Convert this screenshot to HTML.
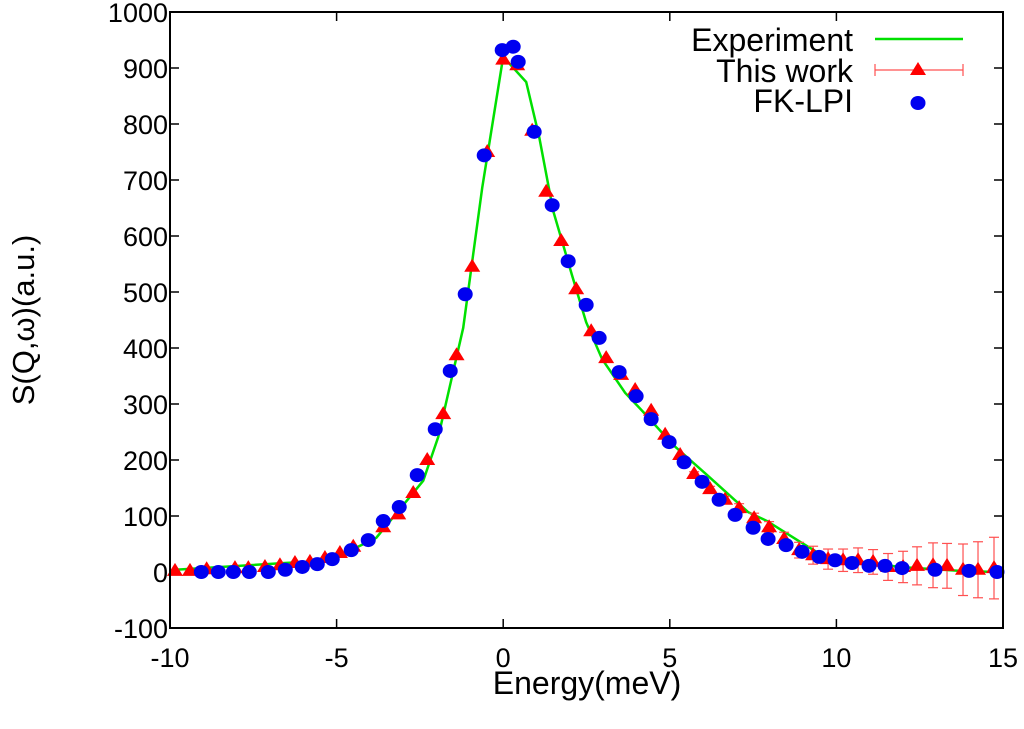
<!DOCTYPE html>
<html><head><meta charset="utf-8"><style>
html,body{margin:0;padding:0;background:#fff}
svg{display:block;font-family:"Liberation Sans",sans-serif}
</style></head><body>
<svg id="chart" width="1024" height="729" xmlns="http://www.w3.org/2000/svg"></svg>
<script>
const xTicks=[-10,-5,0,5,10,15];
const yTicks=[-100,0,100,200,300,400,500,600,700,800,900,1000];
const expX=[-9.84,-5.19,-3.81,-2.4,-1.95,-1.2,-0.63,0,0.69,1.08,1.5,2.07,2.49,2.97,3.66,4.2,5.1,6.12,7.35,7.92,8.91,9.51,9.9,11.91,13.71,14.8];
const expY=[4,21,61,163,241,436,686,920,875,777,645,529,446,380,320,286,227,173,107,91,54,32,25,9,2,0];
const workX=[-9.85,-9.4,-8.9,-8.05,-7.65,-7.15,-6.7,-6.25,-5.8,-5.35,-4.9,-4.5,-3.6,-3.15,-2.7,-2.28,-1.8,-1.4,-0.93,-0.48,0,0.42,0.87,1.29,1.74,2.19,2.64,3.09,3.54,3.96,4.44,4.86,5.31,5.73,6.21,6.66,7.08,7.53,7.98,8.43,8.88,9.3,9.75,10.2,10.65,11.1,11.55,12.0,12.42,12.9,13.32,13.8,14.25,14.73];
const workY=[2,2,5,7,7,9,12,16,18,25,34,45,80,103,141,200,282,387,545,750,915,905,788,679,591,505,430,382,352,325,288,245,209,175,148,129,114,96,80,59,39,30,23,21,21,18,9,9,11,12,11,4,4,7];
const workErr=[1,1,1,1,1,1,1,1,1,1,1,1,1,1,1,1,1,1,1,1,1,1,1,1,1,1,1,1,1,2,2,3,3,4,5,6,8,9,10,12,14,16,18,20,22,22,24,28,34,40,40,46,50,55];
const lpiX=[-9.06,-8.55,-8.1,-7.62,-7.05,-6.54,-6.03,-5.58,-5.13,-4.56,-4.05,-3.6,-3.12,-2.58,-2.04,-1.59,-1.14,-0.57,-0.03,0.3,0.45,0.93,1.47,1.95,2.49,2.88,3.48,3.99,4.44,4.98,5.43,5.97,6.48,6.96,7.5,7.95,8.49,8.97,9.48,9.96,10.47,10.98,11.46,11.97,12.96,13.98,14.82];
const lpiY=[0,0,0,0,0,4,9,14,23,39,57,91,116,173,255,359,496,744,932,938,911,786,655,555,477,418,357,314,273,232,196,161,129,102,79,59,48,36,27,21,16,11,11,7,4,2,0];

const NS="http://www.w3.org/2000/svg";
const svg=document.getElementById('chart');
const L=170,R=1003,T=12,B=628;
const sx=v=>L+(v+10)/25*(R-L);
const sy=v=>B-(v+100)/1100*(B-T);
function mk(tag,a,parent){const e=document.createElementNS(NS,tag);for(const k in a)e.setAttribute(k,a[k]);(parent||svg).appendChild(e);return e;}

const axes=mk('g',{});


xTicks.forEach(v=>{
  const x=sx(v);
  mk('line',{x1:x,y1:B,x2:x,y2:B-9,stroke:'#000','stroke-width':1.5},axes);
  mk('line',{x1:x,y1:T,x2:x,y2:T+9,stroke:'#000','stroke-width':1.5},axes);
  const t=mk('text',{x:x,y:B+39,'text-anchor':'middle','font-size':27},axes);
  t.textContent=v;
  
  
});
yTicks.forEach(v=>{
  const y=sy(v);
  mk('line',{x1:L,y1:y,x2:L+9,y2:y,stroke:'#000','stroke-width':1.5},axes);
  mk('line',{x1:R,y1:y,x2:R-9,y2:y,stroke:'#000','stroke-width':1.5},axes);
  const t=mk('text',{x:L-2,y:y+10,'text-anchor':'end','font-size':27},axes);
  t.textContent=v;
  
  
});

const pts=expX.map((x,i)=>sx(x)+','+sy(expY[i])).join(' ');
const line=mk('polyline',{points:pts,fill:'none',stroke:'#00e000','stroke-width':2.5});



const wg=mk('g',{});


workX.forEach((xv,i)=>{
  const x=sx(xv),y=sy(workY[i]),e=workErr[i]*(B-T)/1100;
  if(e>2){
    mk('line',{x1:x,y1:y-e,x2:x,y2:y+e,stroke:'#ff5050','stroke-width':1.2},wg);
    mk('line',{x1:x-5,y1:y-e,x2:x+5,y2:y-e,stroke:'#ff5050','stroke-width':1.2},wg);
    mk('line',{x1:x-5,y1:y+e,x2:x+5,y2:y+e,stroke:'#ff5050','stroke-width':1.2},wg);
  }
  const p=mk('polygon',{points:`${x},${y-8} ${x-8},${y+5} ${x+8},${y+5}`,fill:'#f00'},wg);
  
  
});

const lg=mk('g',{});


lpiX.forEach((xv,i)=>{
  const c=mk('ellipse',{cx:sx(xv),cy:sy(lpiY[i]),rx:7.5,ry:7,fill:'#0000f0'},lg);
  
  
});

const fr=mk('rect',{x:L,y:T,width:R-L,height:B-T,fill:'none',stroke:'#000','stroke-width':2});


</script>
<svg width="1024" height="729" style="position:absolute;left:0;top:0" xmlns="http://www.w3.org/2000/svg" font-family="Liberation Sans, sans-serif">
  <g font-size="32">
    <text x="853" y="51" text-anchor="end">Experiment</text>
    <line x1="875" y1="39" x2="963" y2="39" stroke="#00e000" stroke-width="2.5"/>
    <text x="853" y="82" text-anchor="end">This work</text>
    <line x1="875" y1="70" x2="963" y2="70" stroke="#ff5050" stroke-width="1.2"/>
    <line x1="875" y1="64" x2="875" y2="76" stroke="#ff5050" stroke-width="1.2"/>
    <line x1="963" y1="64" x2="963" y2="76" stroke="#ff5050" stroke-width="1.2"/>
    <polygon points="918,62 910,75 926,75" fill="#f00"/>
    <text x="853" y="112" text-anchor="end">FK-LPI</text>
    <ellipse cx="918" cy="103" rx="7.5" ry="7" fill="#0000f0"/>
  </g>
  <text x="587" y="694" text-anchor="middle" font-size="32">Energy(meV)</text>
  <text transform="translate(34,320) rotate(-90)" text-anchor="middle" font-size="31">S(Q,ω)(a.u.)</text>
</svg>
</body></html>
